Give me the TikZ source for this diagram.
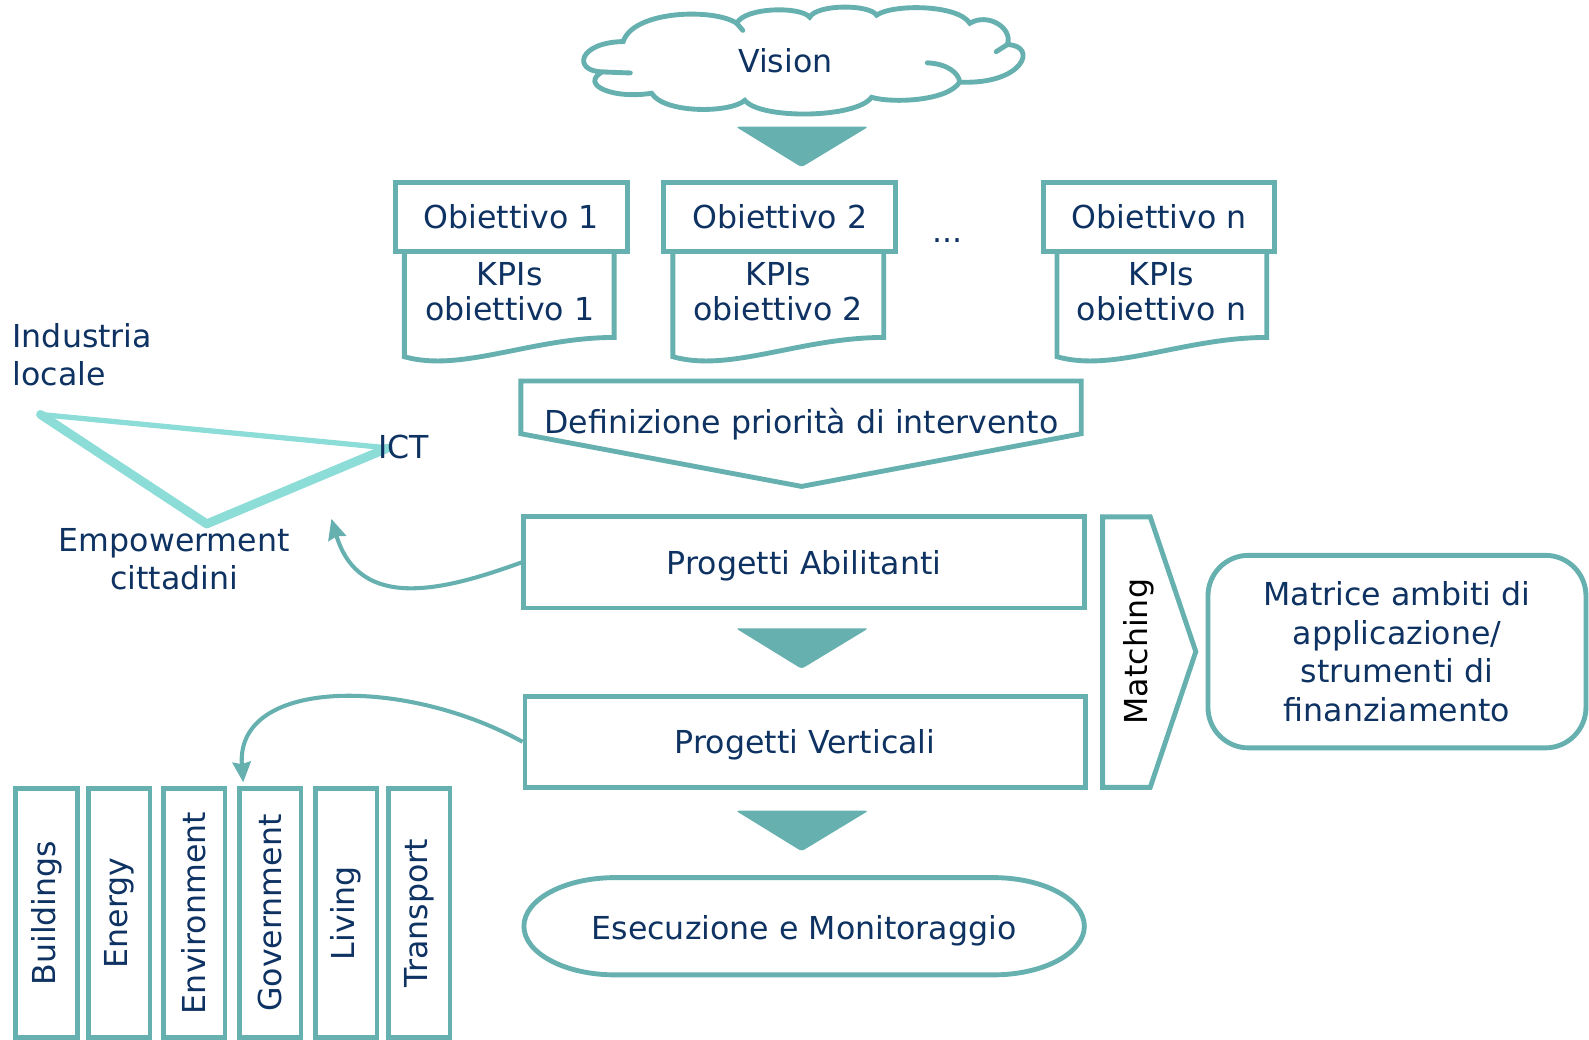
\documentclass[tikz,border=0pt]{standalone}
\usepackage{fontspec}
\setmainfont{DejaVu Sans}
\usetikzlibrary{arrows.meta}
\definecolor{teal1}{RGB}{102,176,176}
\definecolor{navy1}{RGB}{14,50,98}
\definecolor{cyan1}{RGB}{140,220,216}
\tikzset{
  txt/.style={text=navy1,font=\fontsize{15.6}{19}\selectfont,inner sep=0pt,align=center},
  shp/.style={draw=teal1,line width=2.4pt,fill=white},
  hdr/.style={shp,minimum height=34pt,inner sep=0pt,text=navy1,font=\fontsize{15.6}{19}\selectfont},
  bigbox/.style={shp,minimum width=276.5pt,minimum height=45pt,inner sep=0pt,text depth=0pt,text=navy1,font=\fontsize{15.6}{19}\selectfont},
  vbox/.style={shp,minimum width=30.5pt,minimum height=123pt,inner sep=0pt},
  vtxt/.style={txt,rotate=90},
  tri/.style={fill=teal1,rounded corners=1.5pt},
  tline/.style={draw=cyan1,line cap=round,line join=round},
  cloudline/.style={draw=teal1,line width=2.4pt,line cap=round},
  conn/.style={draw=teal1,line width=2pt,-{Stealth[length=10pt,width=9pt,inset=1pt]}}
}
\begin{document}
\begin{tikzpicture}[x=0.5pt,y=-0.5pt]
\useasboundingbox (0,0) rectangle (1568,1026);
% cloud
\coordinate (cA) at (615,41);
\coordinate (cB) at (727,23);
\coordinate (cC) at (799,17);
\coordinate (cD) at (865,15);
\coordinate (cE) at (957,23);
\coordinate (cF) at (994,44);
\coordinate (cG) at (947,81);
\coordinate (cH) at (860,96);
\coordinate (cI) at (735,99);
\coordinate (cJ) at (643,92);
\coordinate (cK) at (594,71);
\draw[cloudline,fill=white] (cA) .. controls (625,10) and (705,8) .. (cB)
  .. controls (735,7) and (790,6) .. (cC)
  .. controls (806,4) and (858,4) .. (cD)
  .. controls (880,4) and (945,4) .. (cE)
  .. controls (975,12) and (1000,28) .. (cF)
  .. controls (1025,45) and (1010,84) .. (cG)
  .. controls (935,100) and (880,102) .. (cH)
  .. controls (845,117) and (750,118) .. (cI)
  .. controls (720,112) and (655,112) .. (cJ)
  .. controls (605,98) and (572,84) .. (cK)
  .. controls (565,70) and (570,42) .. (cA) -- cycle;
\draw[cloudline] (915,62) .. controls (935,63) and (946,72) .. (cG);
\draw[cloudline] (cK) -- (622,72);
\draw[cloudline] (cF) -- (983,51);
\draw[cloudline] (cB) -- (733,30);
\node[txt,text depth=0pt] (visiontxt) at (775,60) {Vision};
% arrows (triangles)
\fill[tri] (726,125) -- (857,125) -- (791,165) -- cycle;
% KPIs documents
\draw[shp] (399,244) -- (399,352) .. controls (455,368) and (525,333) .. (606,333) -- (606,244) -- cycle;
\draw[shp] (664,244) -- (664,352) .. controls (720,368) and (790,333) .. (872,333) -- (872,244) -- cycle;
\draw[shp] (1043,244) -- (1043,352) .. controls (1099,368) and (1169,333) .. (1250,333) -- (1250,244) -- cycle;
\node[txt,font=\fontsize{15.6}{17.5}\selectfont] (k1) at (503,288) {KPIs\\obiettivo 1};
\node[txt,font=\fontsize{15.6}{17.5}\selectfont] (k2) at (768,288) {KPIs\\obiettivo 2};
\node[txt,font=\fontsize{15.6}{17.5}\selectfont] (kn) at (1146,288) {KPIs\\obiettivo n};
% Obiettivo headers
\node[hdr,minimum width=114.5pt] (o1) at (504.5,214) {Obiettivo 1};
\node[hdr,minimum width=114.5pt] (o2) at (769.5,214) {Obiettivo 2};
\node[hdr,minimum width=114pt] (on) at (1144,214) {Obiettivo n};
\node[txt] (dots) at (935,237) {...};
% Definizione
\draw[shp] (514,376) -- (1067,376) -- (1067,428) -- (791,480) -- (514,428) -- cycle;
\node[txt,text depth=0pt] (def) at (791,415) {Definizione priorità di intervento};
% Progetti
\node[bigbox] (pa) at (793.5,555) {Progetti Abilitanti};
\fill[tri] (726,620) -- (857,620) -- (791,660) -- cycle;
\node[bigbox] (pv) at (794.5,732) {Progetti Verticali};
\fill[tri] (726,800) -- (857,800) -- (791,840) -- cycle;
% Esecuzione
\draw[shp] (607,866) -- (980,866) arc[start angle=90,end angle=-90,x radius=45pt,y radius=24pt] -- (607,962) arc[start angle=270,end angle=90,x radius=45pt,y radius=24pt] -- cycle;
\node[txt,text depth=0pt] (ese) at (793.5,915) {Esecuzione e Monitoraggio};
% Matching
\draw[shp] (1088,510) -- (1135,510) -- (1180,643) -- (1135,777) -- (1088,777) -- cycle;
\node[txt,text=black,rotate=90] (match) at (1124,643) {Matching};
% Matrice
\node[shp,rounded corners=20pt,minimum width=186.5pt,minimum height=95pt,inner sep=0pt,text=navy1,font=\fontsize{15.6}{19}\selectfont,align=center] (mat) at (1378.5,643) {Matrice ambiti di\\applicazione/\\strumenti di\\finanziamento};
% Left triangle
\coordinate (ind) at (40,409);
\coordinate (ict) at (383,442);
\coordinate (emp) at (204,517);
\draw[tline,line width=2.6pt] (ind) -- (ict);
\draw[tline,line width=4.4pt] (ind) -- (emp) -- (ict);
\node[txt,align=left,anchor=west] (indtxt) at (12,350) {Industria\\locale};
\node[txt,anchor=west] (icttxt) at (373,441) {ICT};
\node[txt] (emptxt) at (172,552) {Empowerment\\cittadini};
% vertical boxes
\node[vbox] (b1) at (46,901) {};
\node[vbox] (b2) at (117.5,901) {};
\node[vbox] (b3) at (191.5,901) {};
\node[vbox] (b4) at (266.5,901) {};
\node[vbox] (b5) at (341.5,901) {};
\node[vbox] (b6) at (413.5,901) {};
\node[vtxt] at (b1) {Buildings};
\node[vtxt] at (b2) {Energy};
\node[vtxt] at (b3) {Environment};
\node[vtxt] at (b4) {Government};
\node[vtxt] at (b5) {Living};
\node[vtxt] at (b6) {Transport};
% connectors
\coordinate (tipA) at (327,512);
\coordinate (tipV) at (240,772);
\draw[conn] (pa.west) .. controls (440,582) and (355,605) .. (tipA);
\draw[conn] (pv.west) .. controls (400,668) and (232,668) .. (tipV);
\end{tikzpicture}
\end{document}
